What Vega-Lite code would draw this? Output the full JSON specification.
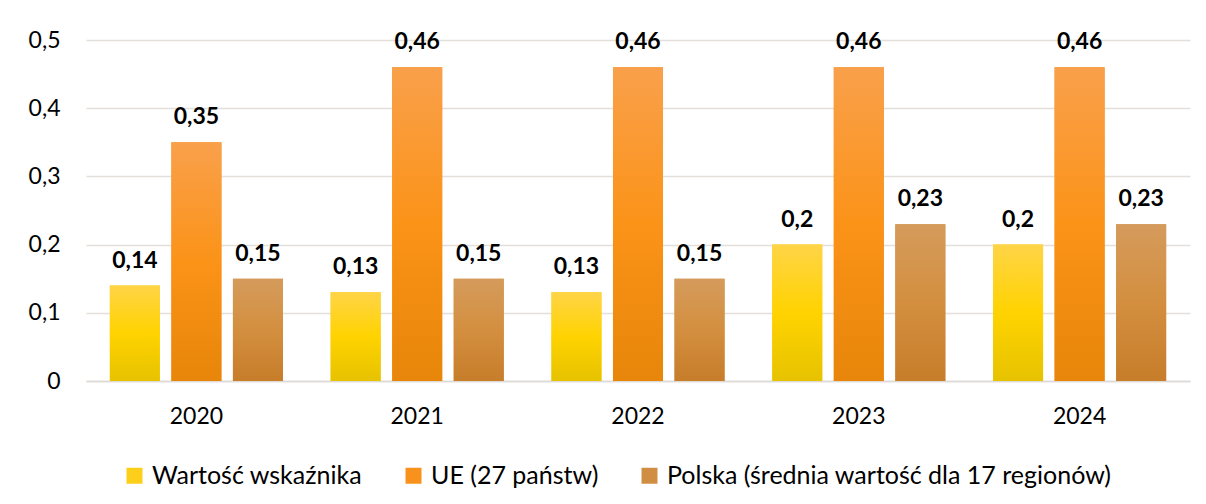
{
  "$schema": "https://vega.github.io/schema/vega-lite/v6.json",
  "width": 1104,
  "height": 341,
  "autosize": "none",
  "padding": {"left": 86, "top": 40, "right": 16, "bottom": 123},
  "background": "white",
  "config": {
    "view": {"stroke": null},
    "font": "Lato",
    "locale": {"number": {"decimal": ",", "thousands": " ", "grouping": [3], "currency": ["", " zł"]}},
    "axis": {"labelFont": "Lato", "labelFontSize": 23, "labelColor": "#000000"}
  },
  "data": {
    "values": [
      {"rok": "2020", "seria": "Wartość wskaźnika", "wartosc": 0.14},
      {"rok": "2020", "seria": "UE (27 państw)", "wartosc": 0.35},
      {"rok": "2020", "seria": "Polska (średnia wartość dla 17 regionów)", "wartosc": 0.15},
      {"rok": "2021", "seria": "Wartość wskaźnika", "wartosc": 0.13},
      {"rok": "2021", "seria": "UE (27 państw)", "wartosc": 0.46},
      {"rok": "2021", "seria": "Polska (średnia wartość dla 17 regionów)", "wartosc": 0.15},
      {"rok": "2022", "seria": "Wartość wskaźnika", "wartosc": 0.13},
      {"rok": "2022", "seria": "UE (27 państw)", "wartosc": 0.46},
      {"rok": "2022", "seria": "Polska (średnia wartość dla 17 regionów)", "wartosc": 0.15},
      {"rok": "2023", "seria": "Wartość wskaźnika", "wartosc": 0.2},
      {"rok": "2023", "seria": "UE (27 państw)", "wartosc": 0.46},
      {"rok": "2023", "seria": "Polska (średnia wartość dla 17 regionów)", "wartosc": 0.23},
      {"rok": "2024", "seria": "Wartość wskaźnika", "wartosc": 0.2},
      {"rok": "2024", "seria": "UE (27 państw)", "wartosc": 0.46},
      {"rok": "2024", "seria": "Polska (średnia wartość dla 17 regionów)", "wartosc": 0.23}
    ]
  },
  "encoding": {
    "x": {
      "field": "rok", "type": "nominal",
      "scale": {"paddingInner": 0.216, "paddingOuter": 0.108},
      "axis": {"title": null, "labelAngle": 0, "ticks": false, "domain": true, "domainColor": "#DDD9D5", "domainWidth": 1.5, "labelPadding": 24}
    },
    "xOffset": {
      "field": "seria", "type": "nominal",
      "sort": ["Wartość wskaźnika", "UE (27 państw)", "Polska (średnia wartość dla 17 regionów)"],
      "scale": {"paddingInner": 0.187, "paddingOuter": 0}
    },
    "y": {
      "field": "wartosc", "type": "quantitative",
      "scale": {"domain": [0, 0.5], "nice": false},
      "axis": {"title": null, "values": [0, 0.1, 0.2, 0.3, 0.4, 0.5], "format": ".1~f", "ticks": false, "domain": false, "gridColor": "#E3DFDB", "gridWidth": 1.5, "labelPadding": 26}
    }
  },
  "layer": [
    {
      "mark": {"type": "bar"},
      "encoding": {
        "color": {
          "field": "seria", "type": "nominal",
          "sort": ["Wartość wskaźnika", "UE (27 państw)", "Polska (średnia wartość dla 17 regionów)"],
          "scale": {"domain": ["Wartość wskaźnika", "UE (27 państw)", "Polska (średnia wartość dla 17 regionów)"], "range": ["#FDCF1A", "#F8921C", "#D08E45"]},
          "legend": {"title": null, "orient": "none", "direction": "horizontal", "legendX": 36, "legendY": 423, "symbolType": "square", "symbolSize": 256, "symbolStrokeWidth": 0, "labelFont": "Lato", "labelFontSize": 25, "labelColor": "#000000", "labelLimit": 0, "columnPadding": 38, "labelOffset": 5}
        }
      }
    },
    {
      "transform": [{"filter": "datum.seria === 'Wartość wskaźnika'"}],
      "mark": {"type": "bar", "color": {"gradient": "linear", "x1": 0, "y1": 0, "x2": 0, "y2": 1, "stops": [{"offset": 0, "color": "#FFD447"}, {"offset": 0.5, "color": "#FFD300"}, {"offset": 1, "color": "#E6C200"}]}}
    },
    {
      "transform": [{"filter": "datum.seria === 'UE (27 państw)'"}],
      "mark": {"type": "bar", "color": {"gradient": "linear", "x1": 0, "y1": 0, "x2": 0, "y2": 1, "stops": [{"offset": 0, "color": "#F9A04B"}, {"offset": 0.5, "color": "#FB9318"}, {"offset": 1, "color": "#E7860A"}]}}
    },
    {
      "transform": [{"filter": "datum.seria === 'Polska (średnia wartość dla 17 regionów)'"}],
      "mark": {"type": "bar", "color": {"gradient": "linear", "x1": 0, "y1": 0, "x2": 0, "y2": 1, "stops": [{"offset": 0, "color": "#D59B5C"}, {"offset": 0.5, "color": "#D38F3F"}, {"offset": 1, "color": "#C77D2A"}]}}
    },
    {
      "mark": {"type": "text", "baseline": "bottom", "dy": -13, "fontSize": 23, "fontWeight": "bold", "font": "Lato", "color": "#000000"},
      "encoding": {
        "text": {"field": "wartosc", "type": "quantitative", "format": ".2~f"}
      }
    }
  ]
}
